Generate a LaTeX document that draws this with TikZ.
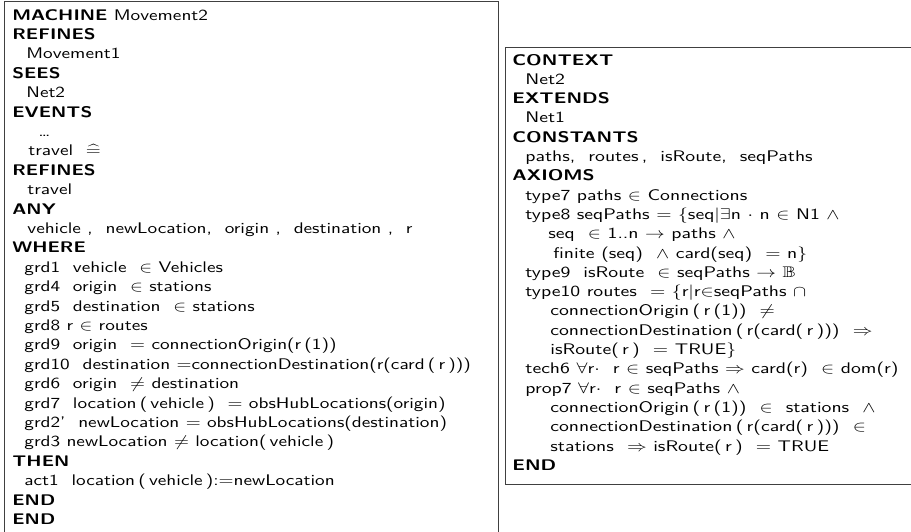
\documentclass[tikz,border=0pt]{standalone}
\usepackage{amssymb}
\renewcommand{\familydefault}{\sfdefault}
\begin{document}
\begin{tikzpicture}[x=0.65pt,y=-0.65pt,
  frame/.style={draw=black!75,line width=0.6pt},
  ln/.style={anchor=base west,inner sep=0pt,xscale=1.25,font=\sffamily\fontsize{10}{12}\selectfont},
  kw/.style={ln,font=\sffamily\bfseries\fontsize{10}{12}\selectfont},
  rln/.style={ln,xscale=1.024},
  rkw/.style={kw,xscale=1.024}]
\useasboundingbox (0,0) rectangle (911,531);
\begin{scope}
  \clip (0,0) rectangle (911,531);
  \draw[frame] (4.5,1.5) rectangle (498.5,545);
  \draw[frame] (505.5,47) rectangle (925,484);
\end{scope}
% left box
\def\ly#1{{20+19.4*#1}}
\node[ln] (L0) at (12,\ly{0}) {\textbf{MACHINE} Movement2};
\node[kw] (L1) at (12,\ly{1}) {REFINES};
\node[ln] (L2) at (26,\ly{2}) {Movement1};
\node[kw] (L3) at (12,\ly{3}) {SEES};
\node[ln] (L4) at (26,\ly{4}) {Net2};
\node[kw] (L5) at (12,\ly{5}) {EVENTS};
\node[ln] (L6) at (38,\ly{6}) {\ldots};
\node[ln] (L7) at (28,\ly{7}) {travel \ $\widehat{=}$};
\node[kw] (L8) at (12,\ly{8}) {REFINES};
\node[ln] (L9) at (27,\ly{9}) {travel};
\node[kw] (L10) at (12,\ly{10}) {ANY};
\node[ln] (L11) at (27,\ly{11}) {vehicle , \ newLocation, \ origin , \ destination , \ r};
\node[kw] (L12) at (12,\ly{12}) {WHERE};
\node[ln] (L13) at (24,\ly{13}) {grd1 \ vehicle \ $\in$ Vehicles};
\node[ln] (L14) at (24,\ly{14}) {grd4 \ origin \ $\in$ stations};
\node[ln] (L15) at (24,\ly{15}) {grd5 \ destination \ $\in$ stations};
\node[ln] (L16) at (24,\ly{16}) {grd8 r $\in$ routes};
\node[ln] (L17) at (24,\ly{17}) {grd9 \ origin \ $=$ connectionOrigin(r\,(1))};
\node[ln] (L18) at (24,\ly{18}) {grd10 \ destination $=$connectionDestination(r(card\,(\,r\,)))};
\node[ln] (L19) at (24,\ly{19}) {grd6 \ origin \ $\neq$ destination};
\node[ln] (L20) at (24,\ly{20}) {grd7 \ location\,(\,vehicle\,) \ $=$ obsHubLocations(origin)};
\node[ln] (L21) at (24,\ly{21}) {grd2' \ newLocation $=$ obsHubLocations(destination)};
\node[ln] (L22) at (24,\ly{22}) {grd3 newLocation $\neq$ location(\,vehicle\,)};
\node[kw] (L23) at (12,\ly{23}) {THEN};
\node[ln] (L24) at (24,\ly{24}) {act1 \ location\,(\,vehicle\,):$=$newLocation};
\node[kw] (L25) at (12,\ly{25}) {END};
\node[kw] (L26) at (12,\ly{26}) {END};
% right box
\def\ry#1{{65+19.3*#1}}
\node[rkw] (R0) at (512,\ry{0}) {CONTEXT};
\node[rln] (R1) at (525,\ry{1}) {Net2};
\node[rkw] (R2) at (512,\ry{2}) {EXTENDS};
\node[rln] (R3) at (525,\ry{3}) {Net1};
\node[rkw] (R4) at (512,\ry{4}) {CONSTANTS};
\node[rln] (R5) at (525,\ry{5}) {paths, \ routes\,, \ isRoute, \ seqPaths};
\node[rkw] (R6) at (512,\ry{6}) {AXIOMS};
\node[rln] (R7) at (525,\ry{7}) {type7 paths $\in$ Connections};
\node[rln] (R8) at (525,\ry{8}) {type8 seqPaths $=$ $\{$seq$|\exists$n $\cdot$ n $\in$ N1 $\wedge$};
\node[rln] (R9) at (548,\ry{9}) {seq \ $\in$ 1..n $\rightarrow$ paths $\wedge$};
\node[rln] (R10) at (553,\ry{10}) {finite (seq) \ $\wedge$ card(seq) \ $=$ n$\}$};
\node[rln] (R11) at (525,\ry{11}) {type9 \ isRoute \ $\in$ seqPaths $\rightarrow$ $\mathbb{B}$};
\node[rln] (R12) at (525,\ry{12}) {type10 routes \ $=$ $\{$r$|$r$\in$seqPaths $\cap$};
\node[rln] (R13) at (550,\ry{13}) {connectionOrigin\,(\,r\,(1)) \ $\neq$};
\node[rln] (R14) at (550,\ry{14}) {connectionDestination\,(\,r(card(\,r\,))) \ $\Rightarrow$};
\node[rln] (R15) at (550,\ry{15}) {isRoute(\,r\,) \ $=$ TRUE$\}$};
\node[rln] (R16) at (525,\ry{16}) {tech6 $\forall$r$\cdot$ \ r $\in$ seqPaths $\Rightarrow$ card(r) \ $\in$ dom(r)};
\node[rln] (R17) at (525,\ry{17}) {prop7 $\forall$r$\cdot$ \ r $\in$ seqPaths $\wedge$};
\node[rln] (R18) at (550,\ry{18}) {connectionOrigin\,(\,r\,(1)) \ $\in$ \ stations \ $\wedge$};
\node[rln] (R19) at (550,\ry{19}) {connectionDestination\,(\,r(card(\,r\,))) \ $\in$};
\node[rln] (R20) at (550,\ry{20}) {stations \ $\Rightarrow$ isRoute(\,r\,) \ $=$ TRUE};
\node[rkw] (R21) at (512,\ry{21}) {END};
\end{tikzpicture}
\end{document}
